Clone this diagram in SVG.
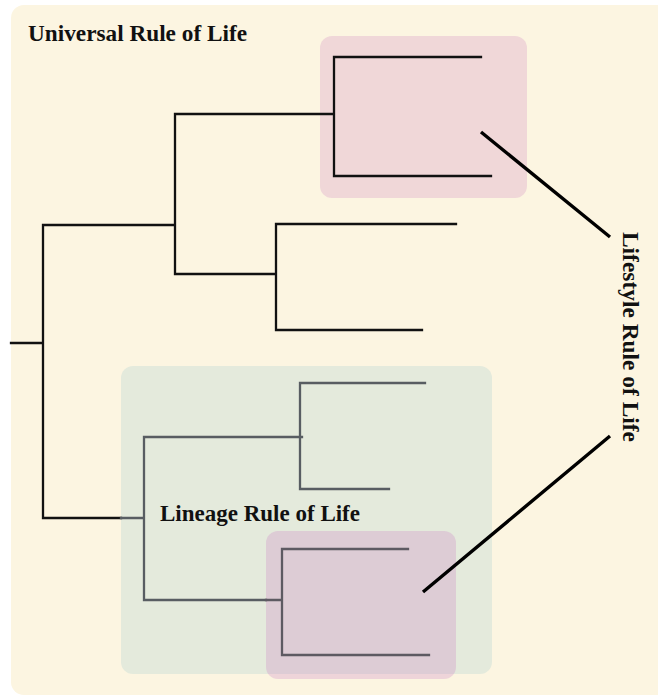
<svg xmlns="http://www.w3.org/2000/svg" width="658" height="696" viewBox="0 0 658 696">
<style>
.lbl{font-family:"Liberation Serif","Times New Roman",serif;font-size:23px;fill:#111;}
.b{font-weight:bold;}
.k{stroke:#111;stroke-width:2.3;fill:none;stroke-linecap:square;}
.g{stroke:#585d62;stroke-width:2.3;fill:none;stroke-linecap:square;}
.p{stroke:#5d5a62;stroke-width:2.3;fill:none;stroke-linecap:square;}
.ls{stroke:#000;stroke-width:3.4;fill:none;}
</style>
<rect width="658" height="696" fill="#ffffff"/>
<g id="universal">
<rect x="11" y="5" width="660" height="690" rx="13" fill="#fcf5e1"/>
<text class="lbl b" x="28" y="41" textLength="219" lengthAdjust="spacingAndGlyphs">Universal Rule of Life</text>
</g>
<g id="lifestyle-top">
<rect x="320" y="36" width="207" height="162" rx="12" fill="#f0d7d8"/>
</g>
<g id="lineage">
<rect x="121" y="366" width="371" height="308" rx="12" fill="#e4eadc"/>
<text class="lbl b" x="160" y="521" textLength="200" lengthAdjust="spacingAndGlyphs">Lineage Rule of Life</text>
</g>
<g id="lifestyle-bottom">
<rect x="266" y="531" width="190" height="148" rx="12" fill="rgb(205,135,200)" fill-opacity="0.3"/>
</g>
<g id="lifestyle-label">
<text class="lbl b" transform="translate(623,337) rotate(90)" text-anchor="middle" textLength="210" lengthAdjust="spacingAndGlyphs" style="font-weight:600">Lifestyle Rule of Life</text>
</g>
<g id="connectors">
<path class="k" d="M11 343H43M43 225V518M43 225H175M175 114V274M175 114H334M334 57V176M334 57H481M334 176H491M175 274H276M276 224V330M276 224H456M276 330H422M43 518H121"/>
<path class="g" d="M121 518H144M144 437V600M144 437H302M300 383V489M300 383H425M300 489H389M144 600H266"/>
<path class="p" d="M266 600H282M282 549V655M282 549H408M282 655H429"/>
<path class="ls" d="M481 132L610 237M423 592L610 436"/>
</g>
</svg>
